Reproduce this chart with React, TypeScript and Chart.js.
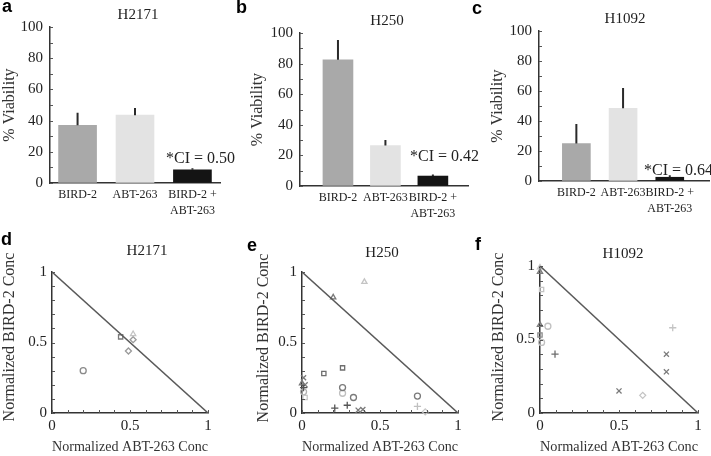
import React, { useEffect, useRef } from 'react';
import { Chart, registerables } from 'chart.js';
Chart.register(...registerables);

const SERIF = "'Liberation Serif', 'Times New Roman', Times, serif";
const SANS = "'Liberation Sans', Arial, Helvetica, sans-serif";

// ---------- data ----------
const barCategories: (string | string[])[] = ['BIRD-2', 'ABT-263', ['BIRD-2 +', 'ABT-263']];
const cellLines = ['H2171', 'H250', 'H1092'];
const ciLabels = ['*CI = 0.50', '*CI = 0.42', '*CI = 0.64'];
const yAxisTitleBar = '% Viability';
const xAxisTitleIso = 'Normalized ABT-263 Conc';
const yAxisTitleIso = 'Normalized BIRD-2 Conc';

const H2171_viability = [37, 43.5, 8.5];
const H2171_errTop = [45, 48, 9.5];
const H250_viability = [82.5, 26.5, 6.5];
const H250_errTop = [95.5, 30, 7.5];
const H1092_viability = [25, 48.5, 2.5];
const H1092_errTop = [38, 62, 3.8];

// isobologram points [normalized ABT-263, normalized BIRD-2]
const d_circleDark = [[0.20, 0.30]];
const d_squareDark = [[0.44, 0.54]];
const d_triangleLight = [[0.52, 0.56]];
const d_diamondMid = [[0.52, 0.52], [0.49, 0.44]];

const e_triangleLight = [[0.40, 0.93]];
const e_triangleDark = [[0.20, 0.82], [0.0, 0.21]];
const e_squareDark = [[0.14, 0.28], [0.26, 0.32]];
const e_circleDark = [[0.26, 0.18], [0.33, 0.11], [0.74, 0.12]];
const e_circleLight = [[0.26, 0.14]];
const e_plusDark = [[0.21, 0.035], [0.29, 0.055], [0.01, 0.18]];
const e_plusLight = [[0.74, 0.047]];
const e_crossDark = [[0.36, 0.02], [0.39, 0.025], [0.01, 0.25], [0.02, 0.2]];
const e_diamondLight = [[0.79, 0.008]];
const e_squareLight = [[0.02, 0.11]];
const e_circleAxis = [[0.01, 0.15]];

const f_triangleDark = [[0.0, 0.96], [0.0, 0.60]];
const f_triangleLight = [[0.0, 0.99]];
const f_squareLight = [[0.01, 0.84]];
const f_squareDark = [[0.0, 0.53]];
const f_circleLight = [[0.05, 0.59], [0.01, 0.48]];
const f_plusDark = [[0.095, 0.40]];
const f_crossDark = [[0.50, 0.15], [0.80, 0.40], [0.80, 0.28]];
const f_diamondLight = [[0.65, 0.12]];
const f_plusLight = [[0.84, 0.58]];

const isoTickLabels = ['0', '0.5', '1'];
const barTickLabels = ['0', '20', '40', '60', '80', '100'];

// ---------- plugins ----------
function textsPlugin(items: any[], offX: number, offY: number) {
  return {
    id: 'texts',
    afterDraw(chart: any) {
      const ctx = chart.ctx;
      for (const t of items) {
        ctx.save();
        ctx.font = t.font;
        ctx.fillStyle = t.color || '#222';
        ctx.textAlign = t.align || 'left';
        ctx.textBaseline = t.baseline || 'alphabetic';
        ctx.translate(t.x - offX, t.y - offY);
        if (t.rotate) ctx.rotate(t.rotate);
        ctx.fillText(t.text, 0, 0);
        ctx.restore();
      }
    },
  };
}

function errPlugin(errTop: number[]) {
  return {
    id: 'errbars',
    afterDatasetsDraw(chart: any) {
      const ctx = chart.ctx;
      const meta = chart.getDatasetMeta(0);
      const ys = chart.scales.y;
      ctx.save();
      ctx.strokeStyle = '#2a2a2a';
      ctx.lineWidth = 2;
      ctx.beginPath();
      meta.data.forEach((bar: any, i: number) => {
        const top = ys.getPixelForValue(errTop[i]);
        ctx.moveTo(bar.x, bar.y);
        ctx.lineTo(bar.x, top);
      });
      ctx.stroke();
      ctx.restore();
    },
  };
}

function innerTicksPlugin(axes: string[], len: number) {
  return {
    id: 'innerTicks',
    afterDatasetsDraw(chart: any) {
      const { ctx, chartArea } = chart;
      ctx.save();
      ctx.strokeStyle = '#555';
      ctx.lineWidth = 1;
      ctx.beginPath();
      if (axes.includes('y')) {
        const s = chart.scales.y;
        s.ticks.forEach((t: any) => {
          const p = Math.round(s.getPixelForValue(t.value)) + 0.5;
          ctx.moveTo(chartArea.left, p);
          ctx.lineTo(chartArea.left + len, p);
        });
      }
      if (axes.includes('x')) {
        const s = chart.scales.x;
        s.ticks.forEach((t: any) => {
          const p = Math.round(s.getPixelForValue(t.value)) + 0.5;
          ctx.moveTo(p, chartArea.bottom);
          ctx.lineTo(p, chartArea.bottom - len);
        });
      }
      ctx.stroke();
      ctx.restore();
    },
  };
}

// ---------- layout ----------
const barColors = ['#a9a9a9', '#e3e3e3', '#141414'];

const topPanels = [
  {
    letter: 'a', canvas: { left: 0, top: 0, w: 236, h: 228 },
    plot: { left: 50, right: 220, top: 27, bottom: 183 },
    xRange: [0.52, 3.48], barW: 38, yTitlePad: 0,
    values: H2171_viability, err: H2171_errTop, title: cellLines[0], ci: ciLabels[0],
    titlePos: [138, 19], letterPos: [2, 12], ciPos: [166, 163],
  },
  {
    letter: 'b', canvas: { left: 236, top: 0, w: 250, h: 228 },
    plot: { left: 300, right: 468, top: 33, bottom: 186 },
    xRange: [0.2, 3.74], barW: 30, yTitlePad: 12,
    values: H250_viability, err: H250_errTop, title: cellLines[1], ci: ciLabels[1],
    titlePos: [387, 25], letterPos: [236, 13], ciPos: [410, 161],
  },
  {
    letter: 'c', canvas: { left: 472, top: 0, w: 239, h: 228 },
    plot: { left: 539, right: 709, top: 31, bottom: 181 },
    xRange: [0.2, 3.84], barW: 28, yTitlePad: 16,
    values: H1092_viability, err: H1092_errTop, title: cellLines[2], ci: ciLabels[2],
    titlePos: [625, 23], letterPos: [472, 14], ciPos: [644, 175],
  },
];

const D = (arr: number[][]) => arr.map(([x, y]) => ({ x, y }));

const bottomPanels = [
  {
    letter: 'd', canvas: { left: 0, top: 228, w: 236, h: 228 },
    plot: { left: 52, right: 208, top: 272, bottom: 413 },
    yTitlePos: [10, 337], title: cellLines[0], titlePos: [147, 255], letterPos: [1, 245],
    series: [
      [d_circleDark, 'circle', '#8a8a8a'],
      [d_squareDark, 'rect', '#7a7a7a'],
      [d_triangleLight, 'triangle', '#c4c4c4'],
      [d_diamondMid, 'rectRot', '#9a9a9a'],
    ],
  },
  {
    letter: 'e', canvas: { left: 236, top: 228, w: 236, h: 228 },
    plot: { left: 302, right: 458, top: 272, bottom: 413 },
    yTitlePos: [264, 338], title: cellLines[1], titlePos: [382, 257], letterPos: [247, 251],
    series: [
      [e_triangleLight, 'triangle', '#c4c4c4'],
      [e_triangleDark, 'triangle', '#7a7a7a'],
      [e_squareDark, 'rect', '#6e6e6e'],
      [e_circleDark, 'circle', '#7a7a7a'],
      [e_circleLight, 'circle', '#c0c0c0'],
      [e_plusDark, 'cross', '#555555'],
      [e_plusLight, 'cross', '#c0c0c0'],
      [e_crossDark, 'crossRot', '#7a7a7a'],
      [e_diamondLight, 'rectRot', '#c8c8c8'],
      [e_squareLight, 'rect', '#c8c8c8'],
      [e_circleAxis, 'circle', '#b0b0b0'],
    ],
  },
  {
    letter: 'f', canvas: { left: 472, top: 228, w: 239, h: 228 },
    plot: { left: 540, right: 698, top: 266, bottom: 413 },
    yTitlePos: [499, 337], title: cellLines[2], titlePos: [623, 258], letterPos: [475, 250],
    series: [
      [f_triangleDark, 'triangle', '#7a7a7a'],
      [f_triangleLight, 'triangle', '#c4c4c4'],
      [f_squareLight, 'rect', '#c4c4c4'],
      [f_squareDark, 'rect', '#8a8a8a'],
      [f_circleLight, 'circle', '#c0c0c0'],
      [f_plusDark, 'cross', '#6e6e6e'],
      [f_crossDark, 'crossRot', '#7a7a7a'],
      [f_diamondLight, 'rectRot', '#c4c4c4'],
      [f_plusLight, 'cross', '#c4c4c4'],
    ],
  },
];

function barConfig(p: any) {
  const { canvas, plot } = p;
  const texts = [
    { text: p.letter, x: p.letterPos[0], y: p.letterPos[1], font: `bold 18px ${SANS}`, color: '#000' },
    { text: p.title, x: p.titlePos[0], y: p.titlePos[1], font: `15px ${SERIF}`, align: 'center' },
    { text: p.ci, x: p.ciPos[0], y: p.ciPos[1], font: `16px ${SERIF}` },
  ];
  return {
    type: 'bar',
    data: {
      datasets: [
        {
          data: p.values.map((v: number, i: number) => ({ x: i + 1, y: v })),
          backgroundColor: barColors,
          borderWidth: 0,
          barThickness: p.barW,
        },
      ],
    },
    options: {
      animation: false,
      responsive: false,
      maintainAspectRatio: false,
      layout: {
        padding: { left: 0, bottom: 0, top: plot.top - canvas.top, right: canvas.left + canvas.w - plot.right },
      },
      plugins: { legend: { display: false }, tooltip: { enabled: false } },
      scales: {
        x: {
          type: 'linear',
          offset: false,
          min: p.xRange[0],
          max: p.xRange[1],
          afterBuildTicks: (s: any) => {
            s.ticks = barCategories.map((_, i) => ({ value: i + 1 }));
          },
          ticks: {
            callback: (v: number) => barCategories[Math.round(v) - 1],
            font: { family: SERIF, size: 12, lineHeight: 1.4 },
            color: '#222',
            padding: 3,
            maxRotation: 0,
            autoSkip: false,
          },
          grid: { display: true, offset: false, drawOnChartArea: false, drawTicks: false },
          border: { display: true, color: '#333', width: 1.5 },
          afterFit: (s: any) => {
            s.height = canvas.top + canvas.h - plot.bottom;
          },
        },
        y: {
          min: 0,
          max: 100,
          ticks: {
            stepSize: 10,
            autoSkip: false,
            callback: (v: number) => (barTickLabels.includes(String(v)) ? String(v) : ''),
            font: { family: SERIF, size: 15 },
            color: '#222',
            padding: 7,
          },
          grid: { display: true, drawOnChartArea: false, drawTicks: false },
          border: { display: true, color: '#333', width: 1.5 },
          title: {
            display: true,
            text: yAxisTitleBar,
            font: { family: SERIF, size: 16 },
            color: '#333',
            padding: { top: p.yTitlePad, bottom: 0 },
          },
          afterFit: (s: any) => {
            s.width = plot.left - canvas.left;
          },
        },
      },
    },
    plugins: [errPlugin(p.err), innerTicksPlugin(['y'], 3), textsPlugin(texts, canvas.left, canvas.top)],
  };
}

function isoConfig(p: any) {
  const { canvas, plot } = p;
  const texts = [
    { text: p.letter, x: p.letterPos[0], y: p.letterPos[1], font: `bold 18px ${SANS}`, color: '#000' },
    { text: p.title, x: p.titlePos[0], y: p.titlePos[1], font: `15px ${SERIF}`, align: 'center' },
    {
      text: yAxisTitleIso, x: p.yTitlePos[0], y: p.yTitlePos[1], font: `16px ${SERIF}`,
      align: 'center', baseline: 'middle', rotate: -Math.PI / 2, color: '#333',
    },
  ];
  const pointSets = p.series.map(([arr, style, color]: any) => ({
    type: 'scatter',
    data: D(arr),
    pointStyle: style,
    pointRadius: style === 'cross' || style === 'crossRot' ? 3.6 : 3,
    pointBorderColor: color,
    pointBackgroundColor: 'rgba(0,0,0,0)',
    pointBorderWidth: 1.3,
    borderColor: color,
    backgroundColor: 'rgba(0,0,0,0)',
    showLine: false,
    clip: false,
  }));
  const labelFor = (v: number) => {
    const s = [0, 0.5, 1].findIndex((t) => Math.abs(t - v) < 1e-6);
    return s >= 0 ? isoTickLabels[s] : '';
  };
  return {
    type: 'scatter',
    data: {
      datasets: [
        {
          type: 'line',
          data: [{ x: 0, y: 1 }, { x: 1, y: 0 }],
          borderColor: '#5a5a5a',
          borderWidth: 1.5,
          pointRadius: 0,
          showLine: true,
          fill: false,
        },
        ...pointSets,
      ],
    },
    options: {
      animation: false,
      responsive: false,
      maintainAspectRatio: false,
      layout: {
        padding: { left: 0, bottom: 0, top: plot.top - canvas.top, right: canvas.left + canvas.w - plot.right },
      },
      plugins: { legend: { display: false }, tooltip: { enabled: false } },
      scales: {
        x: {
          type: 'linear',
          min: 0,
          max: 1,
          ticks: {
            stepSize: 0.1,
            autoSkip: false,
            maxRotation: 0,
            callback: (v: number) => labelFor(v),
            font: { family: SERIF, size: 15 },
            color: '#222',
            padding: 4,
          },
          grid: { display: true, drawOnChartArea: false, drawTicks: false },
          border: { display: true, color: '#333', width: 1.5 },
          title: {
            display: true,
            text: xAxisTitleIso,
            font: { family: SERIF, size: 15 },
            color: '#333',
            padding: { top: 0, bottom: 0 },
          },
          afterFit: (s: any) => {
            s.height = canvas.top + canvas.h - plot.bottom;
          },
        },
        y: {
          type: 'linear',
          min: 0,
          max: 1,
          ticks: {
            stepSize: 0.1,
            autoSkip: false,
            callback: (v: number) => labelFor(v),
            font: { family: SERIF, size: 15 },
            color: '#222',
            padding: 5,
          },
          grid: { display: true, drawOnChartArea: false, drawTicks: false },
          border: { display: true, color: '#333', width: 1.5 },
          afterFit: (s: any) => {
            s.width = plot.left - canvas.left;
          },
        },
      },
    },
    plugins: [innerTicksPlugin(['x', 'y'], 3), textsPlugin(texts, canvas.left, canvas.top)],
  };
}

function Panel({ cfg, canvas }: { cfg: () => any; canvas: any }) {
  const ref = useRef<HTMLCanvasElement | null>(null);
  useEffect(() => {
    if (!ref.current) return;
    const chart = new Chart(ref.current, cfg());
    return () => chart.destroy();
  }, []);
  return (
    <canvas
      ref={ref}
      width={canvas.w}
      height={canvas.h}
      style={{ position: 'absolute', left: canvas.left, top: canvas.top, width: canvas.w, height: canvas.h }}
    />
  );
}

export default function App() {
  return (
    <div style={{ position: 'absolute', left: 0, top: 0, width: 711, height: 456, background: '#fff', overflow: 'hidden' }}>
      {topPanels.map((p) => (
        <Panel key={p.letter} canvas={p.canvas} cfg={() => barConfig(p)} />
      ))}
      {bottomPanels.map((p) => (
        <Panel key={p.letter} canvas={p.canvas} cfg={() => isoConfig(p)} />
      ))}
    </div>
  );
}
